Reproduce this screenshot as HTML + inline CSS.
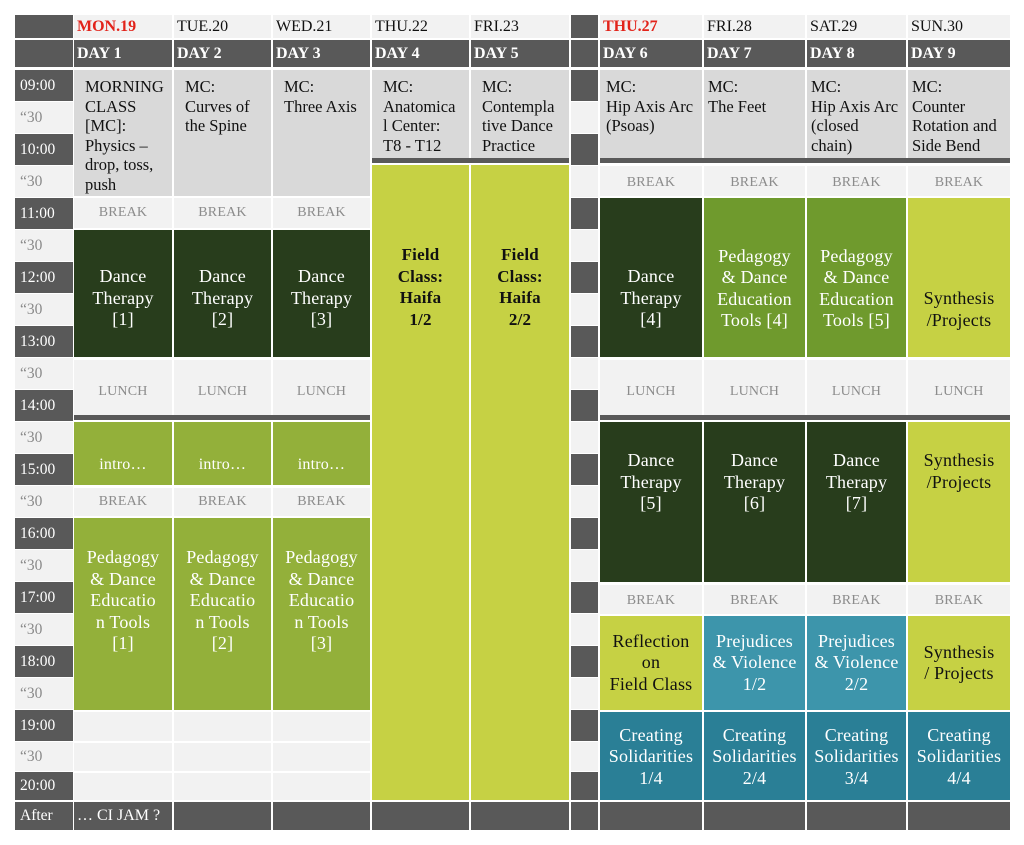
<!DOCTYPE html>
<html><head><meta charset="utf-8"><style>
body{margin:0;width:1024px;height:845px;background:#fff;position:relative;overflow:hidden;font-family:"Liberation Serif","DejaVu Serif",serif}
div{box-sizing:border-box;white-space:nowrap}
.b{position:absolute;display:flex;align-items:center;justify-content:center;text-align:center;line-height:21.5px;font-size:18px;letter-spacing:0.2px}
.t{position:absolute;font-size:15.5px;color:#fff;padding-left:5px;display:flex;align-items:center}
.h{background:#595959}.l{background:#f2f2f2;color:#8a8a8a!important}
.g{background:#d9d9d9}.dg{background:#283d1c;color:#fff}.mg{background:#6f9a2d;color:#fff}
.lg{background:#93b03a;color:#fff}.yg{background:#c6d144;color:#111}
.tl{background:#3d95ab;color:#fff}.td{background:#2a7f96;color:#fff}
.brk{font-size:14px;color:#8c8c8c;background:#f2f2f2}
.mc{position:absolute;background:#d9d9d9;font-size:16.5px;line-height:19.5px;padding:7px 0 0 11px;color:#111}
.dh{position:absolute;background:#595959;color:#fff;font-weight:bold;font-size:16px;padding-left:3px;display:flex;align-items:center}
.dt{position:absolute;background:#f2f2f2;color:#111;font-size:16px;padding-left:3px;display:flex;align-items:center}
</style></head><body>
<div class="t h" style="left:15px;top:15px;width:58px;height:23px"></div>
<div class="t h" style="left:15px;top:40px;width:58px;height:27px"></div>
<div class="t h" style="left:15px;top:70px;width:58px;height:31px">09:00</div>
<div class="t l" style="left:15px;top:102px;width:58px;height:31px">“30</div>
<div class="t h" style="left:15px;top:134px;width:58px;height:31px">10:00</div>
<div class="t l" style="left:15px;top:166px;width:58px;height:31px">“30</div>
<div class="t h" style="left:15px;top:198px;width:58px;height:31px">11:00</div>
<div class="t l" style="left:15px;top:230px;width:58px;height:31px">“30</div>
<div class="t h" style="left:15px;top:262px;width:58px;height:31px">12:00</div>
<div class="t l" style="left:15px;top:294px;width:58px;height:31px">“30</div>
<div class="t h" style="left:15px;top:326px;width:58px;height:31px">13:00</div>
<div class="t l" style="left:15px;top:358px;width:58px;height:31px">“30</div>
<div class="t h" style="left:15px;top:390px;width:58px;height:31px">14:00</div>
<div class="t l" style="left:15px;top:422px;width:58px;height:31px">“30</div>
<div class="t h" style="left:15px;top:454px;width:58px;height:31px">15:00</div>
<div class="t l" style="left:15px;top:486px;width:58px;height:31px">“30</div>
<div class="t h" style="left:15px;top:518px;width:58px;height:31px">16:00</div>
<div class="t l" style="left:15px;top:550px;width:58px;height:31px">“30</div>
<div class="t h" style="left:15px;top:582px;width:58px;height:31px">17:00</div>
<div class="t l" style="left:15px;top:614px;width:58px;height:31px">“30</div>
<div class="t h" style="left:15px;top:646px;width:58px;height:31px">18:00</div>
<div class="t l" style="left:15px;top:678px;width:58px;height:31px">“30</div>
<div class="t h" style="left:15px;top:710px;width:58px;height:31px">19:00</div>
<div class="t l" style="left:15px;top:742px;width:58px;height:29px">“30</div>
<div class="t h" style="left:15px;top:772px;width:58px;height:28px">20:00</div>
<div class="t h" style="left:15px;top:802px;width:58px;height:28px">After</div>
<div class="h" style="position:absolute;left:571px;top:15px;width:27px;height:23px"></div>
<div class="h" style="position:absolute;left:571px;top:40px;width:27px;height:27px"></div>
<div class="h" style="position:absolute;left:571px;top:70px;width:27px;height:31px"></div>
<div class="l" style="position:absolute;left:571px;top:102px;width:27px;height:31px"></div>
<div class="h" style="position:absolute;left:571px;top:134px;width:27px;height:31px"></div>
<div class="l" style="position:absolute;left:571px;top:166px;width:27px;height:31px"></div>
<div class="h" style="position:absolute;left:571px;top:198px;width:27px;height:31px"></div>
<div class="l" style="position:absolute;left:571px;top:230px;width:27px;height:31px"></div>
<div class="h" style="position:absolute;left:571px;top:262px;width:27px;height:31px"></div>
<div class="l" style="position:absolute;left:571px;top:294px;width:27px;height:31px"></div>
<div class="h" style="position:absolute;left:571px;top:326px;width:27px;height:31px"></div>
<div class="l" style="position:absolute;left:571px;top:358px;width:27px;height:31px"></div>
<div class="h" style="position:absolute;left:571px;top:390px;width:27px;height:31px"></div>
<div class="l" style="position:absolute;left:571px;top:422px;width:27px;height:31px"></div>
<div class="h" style="position:absolute;left:571px;top:454px;width:27px;height:31px"></div>
<div class="l" style="position:absolute;left:571px;top:486px;width:27px;height:31px"></div>
<div class="h" style="position:absolute;left:571px;top:518px;width:27px;height:31px"></div>
<div class="l" style="position:absolute;left:571px;top:550px;width:27px;height:31px"></div>
<div class="h" style="position:absolute;left:571px;top:582px;width:27px;height:31px"></div>
<div class="l" style="position:absolute;left:571px;top:614px;width:27px;height:31px"></div>
<div class="h" style="position:absolute;left:571px;top:646px;width:27px;height:31px"></div>
<div class="l" style="position:absolute;left:571px;top:678px;width:27px;height:31px"></div>
<div class="h" style="position:absolute;left:571px;top:710px;width:27px;height:31px"></div>
<div class="l" style="position:absolute;left:571px;top:742px;width:27px;height:29px"></div>
<div class="h" style="position:absolute;left:571px;top:772px;width:27px;height:28px"></div>
<div class="h" style="position:absolute;left:571px;top:802px;width:27px;height:28px"></div>
<div class="dt" style="left:74px;top:15px;width:98px;height:23px;color:#e2231a;font-weight:bold">MON.19</div>
<div class="dt" style="left:174px;top:15px;width:97px;height:23px">TUE.20</div>
<div class="dt" style="left:273px;top:15px;width:97px;height:23px">WED.21</div>
<div class="dt" style="left:372px;top:15px;width:97px;height:23px">THU.22</div>
<div class="dt" style="left:471px;top:15px;width:98px;height:23px">FRI.23</div>
<div class="dt" style="left:600px;top:15px;width:102px;height:23px;color:#e2231a;font-weight:bold">THU.27</div>
<div class="dt" style="left:704px;top:15px;width:101px;height:23px">FRI.28</div>
<div class="dt" style="left:807px;top:15px;width:99px;height:23px">SAT.29</div>
<div class="dt" style="left:908px;top:15px;width:102px;height:23px">SUN.30</div>
<div class="dh" style="left:74px;top:40px;width:98px;height:27px">DAY 1</div>
<div class="dh" style="left:174px;top:40px;width:97px;height:27px">DAY 2</div>
<div class="dh" style="left:273px;top:40px;width:97px;height:27px">DAY 3</div>
<div class="dh" style="left:372px;top:40px;width:97px;height:27px">DAY 4</div>
<div class="dh" style="left:471px;top:40px;width:98px;height:27px">DAY 5</div>
<div class="dh" style="left:600px;top:40px;width:102px;height:27px">DAY 6</div>
<div class="dh" style="left:704px;top:40px;width:101px;height:27px">DAY 7</div>
<div class="dh" style="left:807px;top:40px;width:99px;height:27px">DAY 8</div>
<div class="dh" style="left:908px;top:40px;width:102px;height:27px">DAY 9</div>
<div class="mc" style="left:74px;top:70px;width:98px;height:126px">MORNING<br>CLASS<br>[MC]:<br>Physics –<br>drop, toss,<br>push</div>
<div class="mc" style="left:174px;top:70px;width:97px;height:126px">MC:<br>Curves of<br>the Spine</div>
<div class="mc" style="left:273px;top:70px;width:97px;height:126px">MC:<br>Three Axis</div>
<div class="mc" style="left:372px;top:70px;width:97px;height:88px">MC:<br>Anatomica<br>l Center:<br>T8 - T12</div>
<div class="mc" style="left:471px;top:70px;width:98px;height:88px">MC:<br>Contempla<br>tive Dance<br>Practice</div>
<div class="mc" style="left:600px;top:70px;width:102px;height:88px;padding-left:6px">MC:<br>Hip Axis Arc<br>(Psoas)</div>
<div class="mc" style="left:704px;top:70px;width:101px;height:88px;padding-left:4px">MC:<br>The Feet</div>
<div class="mc" style="left:807px;top:70px;width:99px;height:88px;padding-left:4px">MC:<br>Hip Axis Arc<br>(closed<br>chain)</div>
<div class="mc" style="left:908px;top:70px;width:102px;height:88px;padding-left:4px">MC:<br>Counter<br>Rotation and<br>Side Bend</div>
<div class="h" style="position:absolute;left:372px;top:158px;width:197px;height:5px"></div>
<div class="h" style="position:absolute;left:600px;top:158px;width:410px;height:5px"></div>
<div class="b brk" style="left:74px;top:198px;width:98px;height:30px">BREAK</div>
<div class="b brk" style="left:174px;top:198px;width:97px;height:30px">BREAK</div>
<div class="b brk" style="left:273px;top:198px;width:97px;height:30px">BREAK</div>
<div class="b dg" style="left:74px;top:230px;width:98px;height:127px;padding-top:10px">Dance<br>Therapy<br>[1]</div>
<div class="b dg" style="left:174px;top:230px;width:97px;height:127px;padding-top:10px">Dance<br>Therapy<br>[2]</div>
<div class="b dg" style="left:273px;top:230px;width:97px;height:127px;padding-top:10px">Dance<br>Therapy<br>[3]</div>
<div class="b brk" style="left:74px;top:360px;width:98px;height:55px;padding-top:8px">LUNCH</div>
<div class="b brk" style="left:174px;top:360px;width:97px;height:55px;padding-top:8px">LUNCH</div>
<div class="b brk" style="left:273px;top:360px;width:97px;height:55px;padding-top:8px">LUNCH</div>
<div class="h" style="position:absolute;left:74px;top:415px;width:296px;height:5px"></div>
<div class="b lg" style="left:74px;top:422px;width:98px;height:63px;font-size:16px;padding-top:22px">intro…</div>
<div class="b lg" style="left:174px;top:422px;width:97px;height:63px;font-size:16px;padding-top:22px">intro…</div>
<div class="b lg" style="left:273px;top:422px;width:97px;height:63px;font-size:16px;padding-top:22px">intro…</div>
<div class="b brk" style="left:74px;top:488px;width:98px;height:28px">BREAK</div>
<div class="b brk" style="left:174px;top:488px;width:97px;height:28px">BREAK</div>
<div class="b brk" style="left:273px;top:488px;width:97px;height:28px">BREAK</div>
<div class="b lg" style="left:74px;top:518px;width:98px;height:192px;align-items:flex-start;padding-top:29px">Pedagogy<br>&amp; Dance<br>Educatio<br>n Tools<br>[1]</div>
<div class="b lg" style="left:174px;top:518px;width:97px;height:192px;align-items:flex-start;padding-top:29px">Pedagogy<br>&amp; Dance<br>Educatio<br>n Tools<br>[2]</div>
<div class="b lg" style="left:273px;top:518px;width:97px;height:192px;align-items:flex-start;padding-top:29px">Pedagogy<br>&amp; Dance<br>Educatio<br>n Tools<br>[3]</div>
<div class="l" style="position:absolute;left:74px;top:712px;width:98px;height:29px"></div>
<div class="l" style="position:absolute;left:174px;top:712px;width:97px;height:29px"></div>
<div class="l" style="position:absolute;left:273px;top:712px;width:97px;height:29px"></div>
<div class="l" style="position:absolute;left:74px;top:743px;width:98px;height:28px"></div>
<div class="l" style="position:absolute;left:174px;top:743px;width:97px;height:28px"></div>
<div class="l" style="position:absolute;left:273px;top:743px;width:97px;height:28px"></div>
<div class="l" style="position:absolute;left:74px;top:773px;width:98px;height:27px"></div>
<div class="l" style="position:absolute;left:174px;top:773px;width:97px;height:27px"></div>
<div class="l" style="position:absolute;left:273px;top:773px;width:97px;height:27px"></div>
<div class="b yg" style="left:372px;top:165px;width:97px;height:635px;align-items:flex-start;padding-top:79px;font-weight:bold;font-size:17px">Field<br>Class:<br>Haifa<br>1/2</div>
<div class="b yg" style="left:471px;top:165px;width:98px;height:635px;align-items:flex-start;padding-top:79px;font-weight:bold;font-size:17px">Field<br>Class:<br>Haifa<br>2/2</div>
<div class="b brk" style="left:600px;top:166px;width:102px;height:30px;padding-top:4px">BREAK</div>
<div class="b brk" style="left:704px;top:166px;width:101px;height:30px;padding-top:4px">BREAK</div>
<div class="b brk" style="left:807px;top:166px;width:99px;height:30px;padding-top:4px">BREAK</div>
<div class="b brk" style="left:908px;top:166px;width:102px;height:30px;padding-top:4px">BREAK</div>
<div class="b dg" style="left:600px;top:198px;width:102px;height:159px;padding-top:42px">Dance<br>Therapy<br>[4]</div>
<div class="b mg" style="left:704px;top:198px;width:101px;height:159px;padding-top:22px">Pedagogy<br>&amp; Dance<br>Education<br>Tools [4]</div>
<div class="b mg" style="left:807px;top:198px;width:99px;height:159px;padding-top:22px">Pedagogy<br>&amp; Dance<br>Education<br>Tools [5]</div>
<div class="b yg" style="left:908px;top:198px;width:102px;height:159px;padding-top:64px">Synthesis<br>/Projects</div>
<div class="b brk" style="left:600px;top:360px;width:102px;height:55px;padding-top:8px">LUNCH</div>
<div class="b brk" style="left:704px;top:360px;width:101px;height:55px;padding-top:8px">LUNCH</div>
<div class="b brk" style="left:807px;top:360px;width:99px;height:55px;padding-top:8px">LUNCH</div>
<div class="b brk" style="left:908px;top:360px;width:102px;height:55px;padding-top:8px">LUNCH</div>
<div class="h" style="position:absolute;left:600px;top:415px;width:410px;height:5px"></div>
<div class="b dg" style="left:600px;top:422px;width:102px;height:160px;align-items:flex-start;padding-top:28px">Dance<br>Therapy<br>[5]</div>
<div class="b dg" style="left:704px;top:422px;width:101px;height:160px;align-items:flex-start;padding-top:28px">Dance<br>Therapy<br>[6]</div>
<div class="b dg" style="left:807px;top:422px;width:99px;height:160px;align-items:flex-start;padding-top:28px">Dance<br>Therapy<br>[7]</div>
<div class="b yg" style="left:908px;top:422px;width:102px;height:160px;align-items:flex-start;padding-top:28px">Synthesis<br>/Projects</div>
<div class="b brk" style="left:600px;top:585px;width:102px;height:29px;padding-top:2px">BREAK</div>
<div class="b brk" style="left:704px;top:585px;width:101px;height:29px;padding-top:2px">BREAK</div>
<div class="b brk" style="left:807px;top:585px;width:99px;height:29px;padding-top:2px">BREAK</div>
<div class="b brk" style="left:908px;top:585px;width:102px;height:29px;padding-top:2px">BREAK</div>
<div class="b yg" style="left:600px;top:616px;width:102px;height:94px">Reflection<br>on<br>Field Class</div>
<div class="b tl" style="left:704px;top:616px;width:101px;height:94px">Prejudices<br>&amp; Violence<br>1/2</div>
<div class="b tl" style="left:807px;top:616px;width:99px;height:94px">Prejudices<br>&amp; Violence<br>2/2</div>
<div class="b yg" style="left:908px;top:616px;width:102px;height:94px">Synthesis<br>/ Projects</div>
<div class="b td" style="left:600px;top:712px;width:102px;height:88px;padding-top:2px">Creating<br>Solidarities<br>1/4</div>
<div class="b td" style="left:704px;top:712px;width:101px;height:88px;padding-top:2px">Creating<br>Solidarities<br>2/4</div>
<div class="b td" style="left:807px;top:712px;width:99px;height:88px;padding-top:2px">Creating<br>Solidarities<br>3/4</div>
<div class="b td" style="left:908px;top:712px;width:102px;height:88px;padding-top:2px">Creating<br>Solidarities<br>4/4</div>
<div class="dh" style="left:74px;top:802px;width:98px;height:28px;font-weight:normal">… CI JAM ?</div>
<div class="h" style="position:absolute;left:174px;top:802px;width:97px;height:28px"></div>
<div class="h" style="position:absolute;left:273px;top:802px;width:97px;height:28px"></div>
<div class="h" style="position:absolute;left:372px;top:802px;width:97px;height:28px"></div>
<div class="h" style="position:absolute;left:471px;top:802px;width:98px;height:28px"></div>
<div class="h" style="position:absolute;left:600px;top:802px;width:102px;height:28px"></div>
<div class="h" style="position:absolute;left:704px;top:802px;width:101px;height:28px"></div>
<div class="h" style="position:absolute;left:807px;top:802px;width:99px;height:28px"></div>
<div class="h" style="position:absolute;left:908px;top:802px;width:102px;height:28px"></div>
</body></html>
